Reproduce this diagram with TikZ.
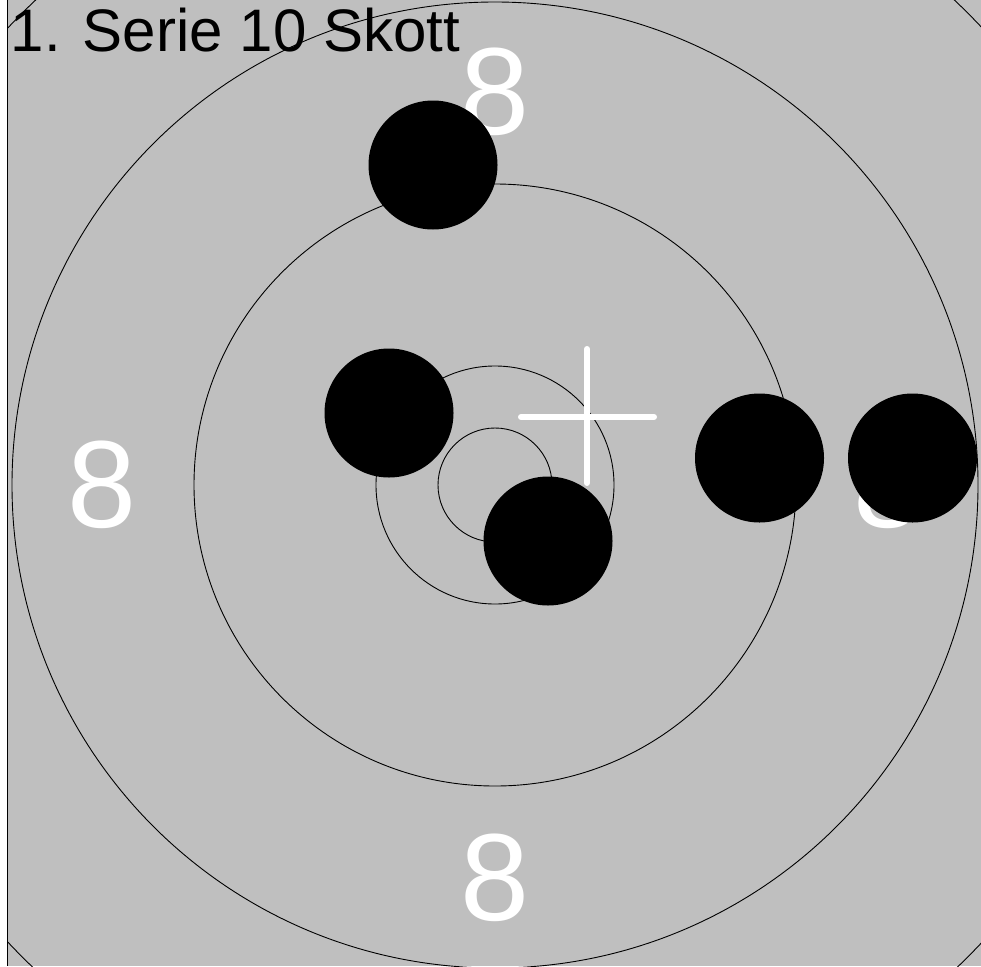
\documentclass[tikz,border=0pt]{standalone}
\usepackage{fontspec}
\setmainfont{Liberation Sans}
\usetikzlibrary{positioning}

\begin{document}
\begin{tikzpicture}[
		x=1pt, y=-1pt,
		ring/.style={draw=black, line width=0.9pt},
		shot/.style={fill=black},
		score/.style={text=white, inner sep=0pt, font=\fontsize{124}{124}\selectfont},
		aimline/.style={draw=white, line width=6pt, line cap=round}
		]
		
		% ==========================================
		% Background and frame
		% ==========================================
		\useasboundingbox (0,0) rectangle (981,966);
		\fill[white] (0,0) rectangle (981,966);
		\fill[black!25] (7,0) rectangle (981,966);
		\draw[line width=1.2pt] (7.5,0) -- (7.5,966);
		
		% ==========================================
		% Rings
		% ==========================================
		\coordinate (centre) at (495,485);
		\begin{scope}
			\clip (7,0) rectangle (981,966);
			\foreach \r in {57, 119, 301, 483, 668}
			\draw[ring] (centre) circle[radius=\r pt];
		\end{scope}
		
		% ==========================================
		% Ring values
		% ==========================================
		\node[score] (eightN) at (495,92) {8};
		\node[score] (eightW) at (102,485) {8};
		\node[score] (eightS) at (495,878) {8};
		\node[score] (eightE) at (888,485) {8};
		
		% ==========================================
		% Shots
		% ==========================================
		\foreach \x/\y [count=\i] in {433/165, 389/413, 548/541, 759.5/458, 912.5/458}
		\fill[shot] (\x,\y) circle[radius=64.5pt] coordinate (shot\i);
		
		% Aim mark
		\coordinate (aim) at (587,417);
		\draw[aimline] ([xshift=-66pt]aim) -- ([xshift=67pt]aim);
		\draw[aimline] ([yshift=68pt]aim) -- ([yshift=-66pt]aim);
		
		% Title
		\node[anchor=base west, inner sep=0pt, font=\fontsize{60}{60}\selectfont] (title) at (10.5,52) {1. Serie 10 Skott};
		
	\end{tikzpicture}
\end{document}
